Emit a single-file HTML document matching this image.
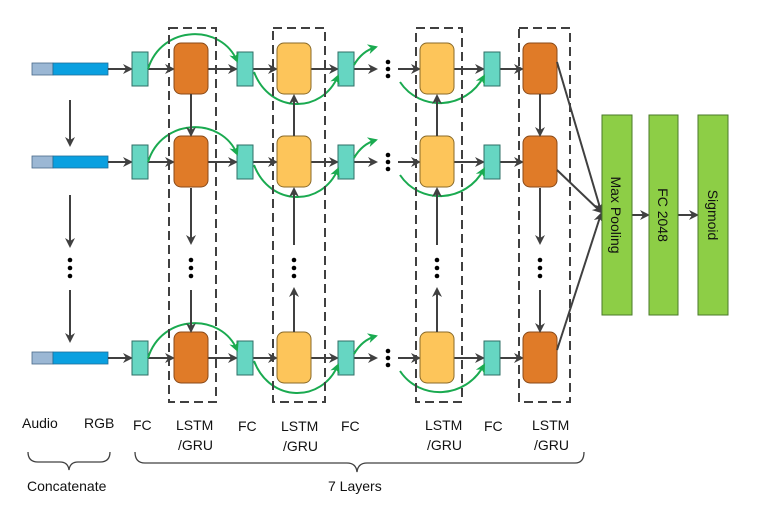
<!DOCTYPE html>
<html><head><meta charset="utf-8"><style>
html,body{margin:0;padding:0;background:#fff;}
svg{display:block;}
text{font-family:"Liberation Sans",sans-serif;fill:#111;}
</style></head><body>
<svg width="766" height="508" viewBox="0 0 766 508" xmlns="http://www.w3.org/2000/svg">
<defs>
<marker id="a" markerWidth="10" markerHeight="10" refX="8" refY="5" orient="auto" markerUnits="userSpaceOnUse"><path d="M0,0 L10,5 L0,10 L3,5 z" fill="#404040"/></marker>
<marker id="g" markerWidth="10" markerHeight="10" refX="8" refY="5" orient="auto" markerUnits="userSpaceOnUse"><path d="M0,0 L10,5 L0,10 L3,5 z" fill="#1aaa50"/></marker>
<g id="row">
  <rect x="32" y="-6" width="21" height="12" fill="#9bb7d4" stroke="#4a6a8a" stroke-width="0.8"/>
  <rect x="53" y="-6" width="55" height="12" fill="#0aa0e0" stroke="#1f6f9a" stroke-width="0.8"/>
  <g stroke="#404040" stroke-width="2" fill="none" marker-end="url(#a)">
    <line x1="108" y1="0" x2="131" y2="0"/>
    <line x1="148" y1="0" x2="173" y2="0"/>
    <line x1="208" y1="0" x2="236" y2="0"/>
    <line x1="253" y1="0" x2="276" y2="0"/>
    <line x1="311" y1="0" x2="337" y2="0"/>
    <line x1="354" y1="0" x2="376" y2="0"/>
    <line x1="398" y1="0" x2="419" y2="0"/>
    <line x1="454" y1="0" x2="483" y2="0"/>
    <line x1="500" y1="0" x2="522" y2="0"/>
  </g>
  <rect x="132" y="-17" width="16" height="34" fill="#66d6c2" stroke="#2f6f66" stroke-width="1"/>
  <rect x="237" y="-17" width="16" height="34" fill="#66d6c2" stroke="#2f6f66" stroke-width="1"/>
  <rect x="338" y="-17" width="16" height="34" fill="#66d6c2" stroke="#2f6f66" stroke-width="1"/>
  <rect x="484" y="-17" width="16" height="34" fill="#66d6c2" stroke="#2f6f66" stroke-width="1"/>
  <rect x="174" y="-26" width="34" height="51" rx="7" fill="#e07b28" stroke="#8a4a18" stroke-width="1"/>
  <rect x="277" y="-26" width="34" height="51" rx="7" fill="#fdc55a" stroke="#8a6a28" stroke-width="1"/>
  <rect x="420" y="-26" width="34" height="51" rx="7" fill="#fdc55a" stroke="#8a6a28" stroke-width="1"/>
  <rect x="523" y="-26" width="34" height="51" rx="7" fill="#e07b28" stroke="#8a4a18" stroke-width="1"/>
  <circle cx="388" cy="-7" r="2.3" fill="#000"/><circle cx="388" cy="0" r="2.3" fill="#000"/><circle cx="388" cy="7" r="2.3" fill="#000"/>
  <g stroke="#1aaa50" stroke-width="2" fill="none" marker-end="url(#g)">
    <path d="M148,0 C162,-45 222,-45 237,-8"/>
    <path d="M254,3 C270,45 322,45 338,7"/>
    <path d="M354,-4 Q362,-18 376,-22"/>
    <path d="M400,13 C420,43 466,41 484,7"/>
  </g>
</g>
</defs>
<use href="#row" y="69"/>
<use href="#row" y="162"/>
<use href="#row" y="358"/>
<g stroke="#404040" stroke-width="2" fill="none" stroke-dasharray="9,5">
  <rect x="169" y="28" width="47" height="374"/>
  <rect x="273" y="28" width="52" height="374"/>
  <rect x="416" y="28" width="46" height="374"/>
  <rect x="519" y="28" width="51" height="374"/>
</g>
<g stroke="#404040" stroke-width="2" fill="none" marker-end="url(#a)">
  <line x1="70" y1="100" x2="70" y2="145"/>
  <line x1="70" y1="195" x2="70" y2="246"/>
  <line x1="70" y1="290" x2="70" y2="341"/>
  <line x1="191" y1="94" x2="191" y2="135"/>
  <line x1="191" y1="188" x2="191" y2="243"/>
  <line x1="191" y1="290" x2="191" y2="331"/>
  <line x1="540" y1="94" x2="540" y2="135"/>
  <line x1="540" y1="188" x2="540" y2="243"/>
  <line x1="540" y1="290" x2="540" y2="331"/>
  <line x1="294" y1="332" x2="294" y2="289"/>
  <line x1="294" y1="245" x2="294" y2="189"/>
  <line x1="294" y1="136" x2="294" y2="96"/>
  <line x1="437" y1="332" x2="437" y2="289"/>
  <line x1="437" y1="245" x2="437" y2="189"/>
  <line x1="437" y1="136" x2="437" y2="96"/>
  <line x1="557" y1="62" x2="601" y2="211"/>
  <line x1="557" y1="170" x2="601" y2="212"/>
  <line x1="557" y1="350" x2="601" y2="214"/>
  <line x1="632" y1="215" x2="648" y2="215"/>
  <line x1="678" y1="215" x2="697" y2="215"/>
</g>
<g fill="#000">
  <circle cx="70" cy="260" r="2.3"/><circle cx="70" cy="268" r="2.3"/><circle cx="70" cy="276" r="2.3"/>
  <circle cx="191" cy="260" r="2.3"/><circle cx="191" cy="268" r="2.3"/><circle cx="191" cy="276" r="2.3"/>
  <circle cx="294" cy="260" r="2.3"/><circle cx="294" cy="268" r="2.3"/><circle cx="294" cy="276" r="2.3"/>
  <circle cx="437" cy="260" r="2.3"/><circle cx="437" cy="268" r="2.3"/><circle cx="437" cy="276" r="2.3"/>
  <circle cx="540" cy="260" r="2.3"/><circle cx="540" cy="268" r="2.3"/><circle cx="540" cy="276" r="2.3"/>
</g>
<rect x="602" y="115" width="30" height="200" fill="#8dce46" stroke="#4a7a2a" stroke-width="1"/>
<rect x="649" y="115" width="29" height="200" fill="#8dce46" stroke="#4a7a2a" stroke-width="1"/>
<rect x="698" y="115" width="30" height="200" fill="#8dce46" stroke="#4a7a2a" stroke-width="1"/>
<g font-size="14">
<text transform="translate(611,215) rotate(90)" text-anchor="middle">Max Pooling</text>
<text transform="translate(658,215) rotate(90)" text-anchor="middle">FC 2048</text>
<text transform="translate(708,215) rotate(90)" text-anchor="middle">Sigmoid</text>
</g>
<g font-size="14">
<text x="22" y="428">Audio</text>
<text x="84" y="428">RGB</text>
<text x="133" y="430">FC</text>
<text x="176" y="430">LSTM</text><text x="178" y="450">/GRU</text>
<text x="238" y="431">FC</text>
<text x="281" y="431">LSTM</text><text x="283" y="451">/GRU</text>
<text x="341" y="431">FC</text>
<text x="425" y="430">LSTM</text><text x="427" y="450">/GRU</text>
<text x="484" y="431">FC</text>
<text x="532" y="430">LSTM</text><text x="534" y="450">/GRU</text>
<text x="27" y="491">Concatenate</text>
<text x="328" y="491">7 Layers</text>
</g>
<g stroke="#404040" stroke-width="1.3" fill="none">
<path d="M28,452 Q28,462 38,462 L60,462 Q68,462 69,470 Q70,462 78,462 L100,462 Q110,462 110,452"/>
<path d="M135,452 Q135,463 145,463 L347,463 Q356,463 357,472 Q358,463 367,463 L575,463 Q584,463 584,452"/>
</g>
</svg>
</body></html>
